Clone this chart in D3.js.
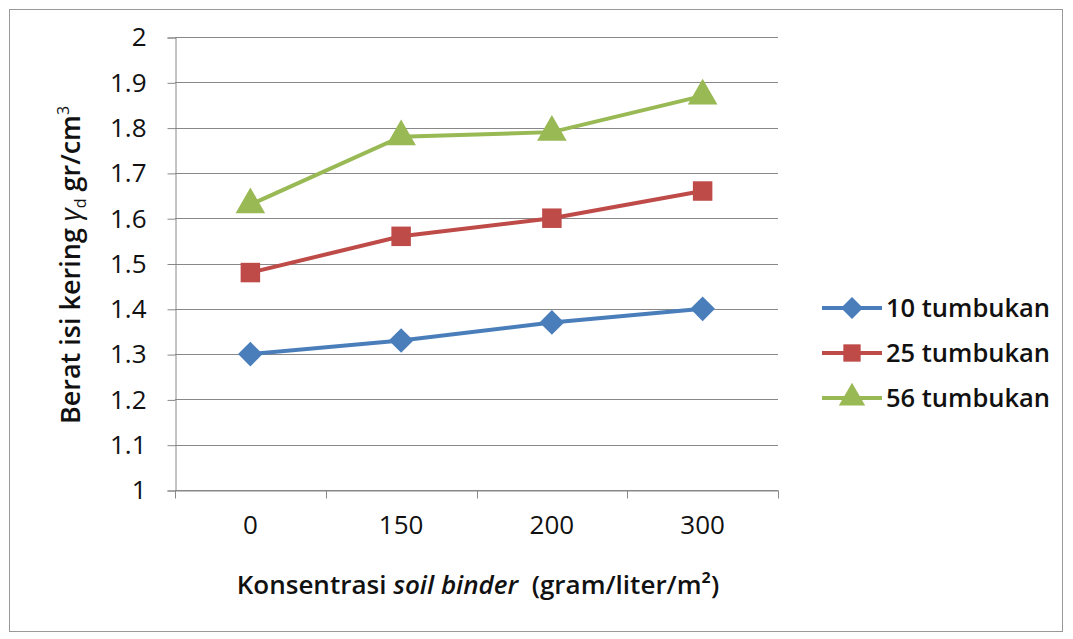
<!DOCTYPE html>
<html>
<head>
<meta charset="utf-8">
<script src="https://cdn.jsdelivr.net/npm/d3@7"></script>
<style>
  body { margin: 0; background: #fff; }
  text { font-family: "Open Sans", "Noto Sans", sans-serif; fill: #111; }
</style>
</head>
<body>
<svg id="chart" width="1073" height="639"></svg>
<script>
var categories = ["0", "150", "200", "300"];
var seriesNames = ["10 tumbukan", "25 tumbukan", "56 tumbukan"];
var values10 = [1.30, 1.33, 1.37, 1.40];
var values25 = [1.48, 1.56, 1.60, 1.66];
var values56 = [1.63, 1.78, 1.79, 1.87];
var yTicks = [1, 1.1, 1.2, 1.3, 1.4, 1.5, 1.6, 1.7, 1.8, 1.9, 2];

(function() {
  var colors = ["#4a7ebb", "#be4b48", "#98b954"];
  var series = [values10, values25, values56];

  // diamond = rotated square, like the spreadsheet marker
  function marker(s, size) {
    if (s === 0) return { d: d3.symbol().type(d3.symbolSquare).size(size * 0.8)(), rot: 45 };
    if (s === 1) return { d: d3.symbol().type(d3.symbolSquare).size(size)(), rot: 0 };
    return { d: d3.symbol().type(d3.symbolTriangle).size(size)(), rot: 0 };
  }

  var svg = d3.select("#chart");

  // outer frame
  svg.append("rect")
    .attr("x", 9.5).attr("y", 9.5)
    .attr("width", 1053).attr("height", 622)
    .attr("fill", "#fff").attr("stroke", "#999").attr("stroke-width", 1);

  var pLeft = 175, pRight = 778, pTop = 37, pBottom = 490;

  var x = d3.scaleBand().domain(categories).range([pLeft, pRight]);
  var y = d3.scaleLinear().domain([1, 2]).range([pBottom, pTop]);

  // gridlines
  svg.append("g")
    .selectAll("line")
    .data(yTicks)
    .enter().append("line")
    .attr("x1", pLeft).attr("x2", pRight)
    .attr("y1", function(d) { return Math.round(y(d)) + 0.5; })
    .attr("y2", function(d) { return Math.round(y(d)) + 0.5; })
    .attr("stroke", "#888").attr("stroke-width", 1);

  // y axis
  var yAxis = svg.append("g")
    .attr("transform", "translate(" + (pLeft + 0.5) + ",0.5)")
    .call(d3.axisLeft(y).tickValues(yTicks).tickSize(8).tickPadding(21)
      .tickFormat(function(d) { return String(+d.toFixed(1)); }));
  yAxis.select(".domain").attr("stroke", "#888");
  yAxis.selectAll(".tick line").attr("stroke", "#888");
  yAxis.selectAll("text").style("font-size", "26px").attr("fill", "#111");

  // x axis
  var xAxis = svg.append("g")
    .attr("transform", "translate(0," + (pBottom + 0.5) + ")")
    .call(d3.axisBottom(x).tickSize(0).tickPadding(25));
  xAxis.select(".domain").attr("stroke", "#888");
  xAxis.selectAll("text").style("font-size", "26px").attr("fill", "#222");
  // tick marks at band boundaries
  xAxis.selectAll(".bound")
    .data(d3.range(categories.length + 1))
    .enter().append("line")
    .attr("x1", function(i) { return Math.round(pLeft + i * x.step()) + 0.5; })
    .attr("x2", function(i) { return Math.round(pLeft + i * x.step()) + 0.5; })
    .attr("y1", 0).attr("y2", 8)
    .attr("stroke", "#888");

  // lines and markers
  var cx = function(i) { return x(categories[i]) + x.bandwidth() / 2; };
  var line = d3.line()
    .x(function(d, i) { return cx(i); })
    .y(function(d) { return y(d); });

  series.forEach(function(vals, s) {
    svg.append("path")
      .datum(vals)
      .attr("d", line)
      .attr("fill", "none")
      .attr("stroke", colors[s])
      .attr("stroke-width", 4);
    var m = marker(s, 380);
    svg.append("g").selectAll("path")
      .data(vals)
      .enter().append("path")
      .attr("transform", function(d, i) {
        return "translate(" + cx(i) + "," + y(d) + ") rotate(" + m.rot + ")";
      })
      .attr("d", m.d)
      .attr("fill", colors[s]);
  });

  // legend
  var legend = svg.append("g");
  seriesNames.forEach(function(name, s) {
    var ly = 308 + s * 45;
    legend.append("line")
      .attr("x1", 822).attr("x2", 882).attr("y1", ly).attr("y2", ly)
      .attr("stroke", colors[s]).attr("stroke-width", 4);
    var m = marker(s, 300);
    legend.append("path")
      .attr("transform", "translate(852," + ly + ") rotate(" + m.rot + ")")
      .attr("d", m.d)
      .attr("fill", colors[s]);
    legend.append("text")
      .attr("x", 886).attr("y", ly + 9)
      .style("font-size", "25.5px").style("font-weight", "600")
      .text(name);
  });

  // axis titles
  var xt = svg.append("text")
    .attr("x", 478).attr("y", 594)
    .attr("text-anchor", "middle")
    .style("font-size", "26px").style("font-weight", "600");
  xt.append("tspan").text("Konsentrasi ");
  xt.append("tspan").style("font-style", "italic").text("soil binder");
  xt.append("tspan").text("\u00a0 (gram/liter/m²)");

  var yt = svg.append("text")
    .attr("transform", "translate(80,265) rotate(-90)")
    .attr("text-anchor", "middle")
    .style("font-size", "27px").style("font-weight", "600");
  yt.append("tspan").text("Berat isi kering ");
  yt.append("tspan").style("font-style", "italic").style("font-weight", "normal").style("font-size", "28px").text("γ");
  yt.append("tspan").attr("dy", 6).style("font-size", "16px").style("font-weight", "normal").text("d");
  yt.append("tspan").attr("dy", -6).text(" gr/cm");
  yt.append("tspan").attr("dy", -11).style("font-size", "16px").style("font-weight", "normal").text("3");
})();
</script>
</body>
</html>
